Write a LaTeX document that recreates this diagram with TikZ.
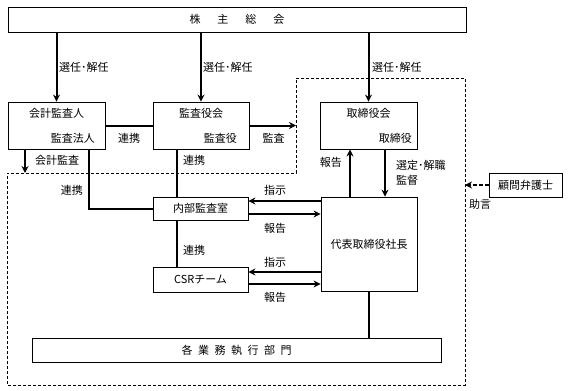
\documentclass[tikz,border=0pt]{standalone}
\usepackage{fontspec}
\setmainfont{Noto Sans CJK JP}
\usetikzlibrary{arrows.meta, positioning, calc}

\begin{document}
\begin{tikzpicture}[x=1pt, y=-1pt,
  box/.style={draw, line width=0.8pt, fill=white, inner sep=0pt,
  align=center, font=\fontsize{11}{13}\selectfont},
  lbl/.style={inner sep=0pt, font=\fontsize{11}{15}\selectfont},
  arr/.style={-{Stealth[length=7pt,width=7pt]}, line width=2pt},
  link/.style={line width=2pt},
  bound/.style={line width=0.8pt, dash pattern=on 3pt off 2pt}
]
\useasboundingbox (0,0) rectangle (568,391);
\coordinate (dA) at (296,78);
\coordinate (dB) at (465,78);
\coordinate (dC) at (465,385);
\coordinate (dD) at (7,385);
\coordinate (dE) at (7,173);
\coordinate (dF) at (296,173);
\draw[bound] (dA) -- (dB) -- (dC) -- (dD) -- (dE) -- (dF) -- cycle;

\node[box, minimum width=458, minimum height=25] (soukai) at (237,19.5) {株\hspace{17pt}主\hspace{17pt}総\hspace{17pt}会};
\node[box, minimum width=97, minimum height=47] (kaikei) at (56.5,125.5) {};
\node[box, minimum width=96, minimum height=47] (kansa) at (201,125.5) {};
\node[box, minimum width=97, minimum height=47] (torishimari) at (368.5,125.5) {};
\node[box, minimum width=95, minimum height=23] (naibu) at (200.5,208.5) {内部監査室};
\node[box, minimum width=95, minimum height=25] (csr) at (200.5,279.5) {CSRチーム};
\node[box, minimum width=96, minimum height=94] (daihyo) at (369,244) {代表取締役社長};
\node[box, minimum width=409, minimum height=24] (gyomu) at (236.5,350) {各\hspace{5.5pt}業\hspace{5.5pt}務\hspace{5.5pt}執\hspace{5.5pt}行\hspace{5.5pt}部\hspace{5.5pt}門};
\node[box, minimum width=73, minimum height=24] (komon) at (525.5,185) {顧問弁護士};

\node[lbl] (kaikeiName) at (56.5,113) {会計監査人};
\node[lbl, anchor=east] (kaikeiSub) at (95,138) {監査法人};
\node[lbl] (kansaName) at (201,113) {監査役会};
\node[lbl, anchor=east] (kansaSub) at (237,138) {監査役};
\node[lbl] (torishimariName) at (368.5,113) {取締役会};
\node[lbl, anchor=east] (torishimariSub) at (412,138) {取締役};

\draw[arr] (kaikei.north |- soukai.south) -- (kaikei.north);
\draw[arr] (kansa.north |- soukai.south) -- (kansa.north);
\draw[arr] (torishimari.north |- soukai.south) -- (torishimari.north);
\draw[link] (kaikei.east) -- (kansa.west);
\draw[arr] (kansa.east) -- (kansa.east -| dA);
\draw[arr] ([xshift=-31.5pt]kaikei.south) -- ([xshift=-31.5pt]kaikei.south |- dE);
\draw[link] ([xshift=32.5pt]kaikei.south) |- (naibu.west);
\draw[link] ([xshift=-24pt]kansa.south) -- ([xshift=-24pt]kansa.south |- naibu.north);
\draw[link] ([xshift=-23.5pt]naibu.south) -- ([xshift=-23.5pt]naibu.south |- csr.north);
\draw[arr] ([yshift=7.5pt]naibu.east -| daihyo.west) -- ([yshift=7.5pt]naibu.east);
\draw[arr] ([yshift=-5.5pt]naibu.east) -- ([yshift=-5.5pt]naibu.east -| daihyo.west);
\draw[arr] ([yshift=7.5pt]csr.east -| daihyo.west) -- ([yshift=7.5pt]csr.east);
\draw[arr] ([yshift=-4.5pt]csr.east) -- ([yshift=-4.5pt]csr.east -| daihyo.west);
\draw[arr] ([xshift=-19pt]daihyo.north) -- ([xshift=-19pt]daihyo.north |- torishimari.south);
\draw[arr] ([xshift=16.5pt]torishimari.south) -- ([xshift=16.5pt]torishimari.south |- daihyo.north);
\draw[link] (daihyo.south) -- (daihyo.south |- gyomu.north);
\draw[arr, dash pattern=on 4pt off 2pt] (komon.west) -- (komon.west -| dB);

\node[lbl, anchor=west] (sennin1) at (59,67) {選任･解任};
\node[lbl, anchor=west] (sennin2) at (203,67) {選任･解任};
\node[lbl, anchor=west] (sennin3) at (372,67) {選任･解任};
\node[lbl] (renkei1) at (129,138) {連携};
\node[lbl] (kansaLbl) at (273.5,138) {監査};
\node[lbl, anchor=west] (kaikeiKansa) at (35,160) {会計監査};
\node[lbl, anchor=west] (renkei2) at (183,160) {連携};
\node[lbl, anchor=east] (renkei3) at (83,190) {連携};
\node[lbl] (shiji1) at (275,190) {指示};
\node[lbl] (houkoku1) at (275,228) {報告};
\node[lbl, anchor=west] (renkei4) at (183,250) {連携};
\node[lbl] (shiji2) at (275,262) {指示};
\node[lbl] (houkoku2) at (275,297) {報告};
\node[lbl, anchor=east] (houkoku3) at (342,162) {報告};
\node[lbl, anchor=west, align=left] (sentei) at (396,172.5) {選定･解職\\監督};
\node[lbl, anchor=west] (jogen) at (469,204) {助言};
\end{tikzpicture}
\end{document}
